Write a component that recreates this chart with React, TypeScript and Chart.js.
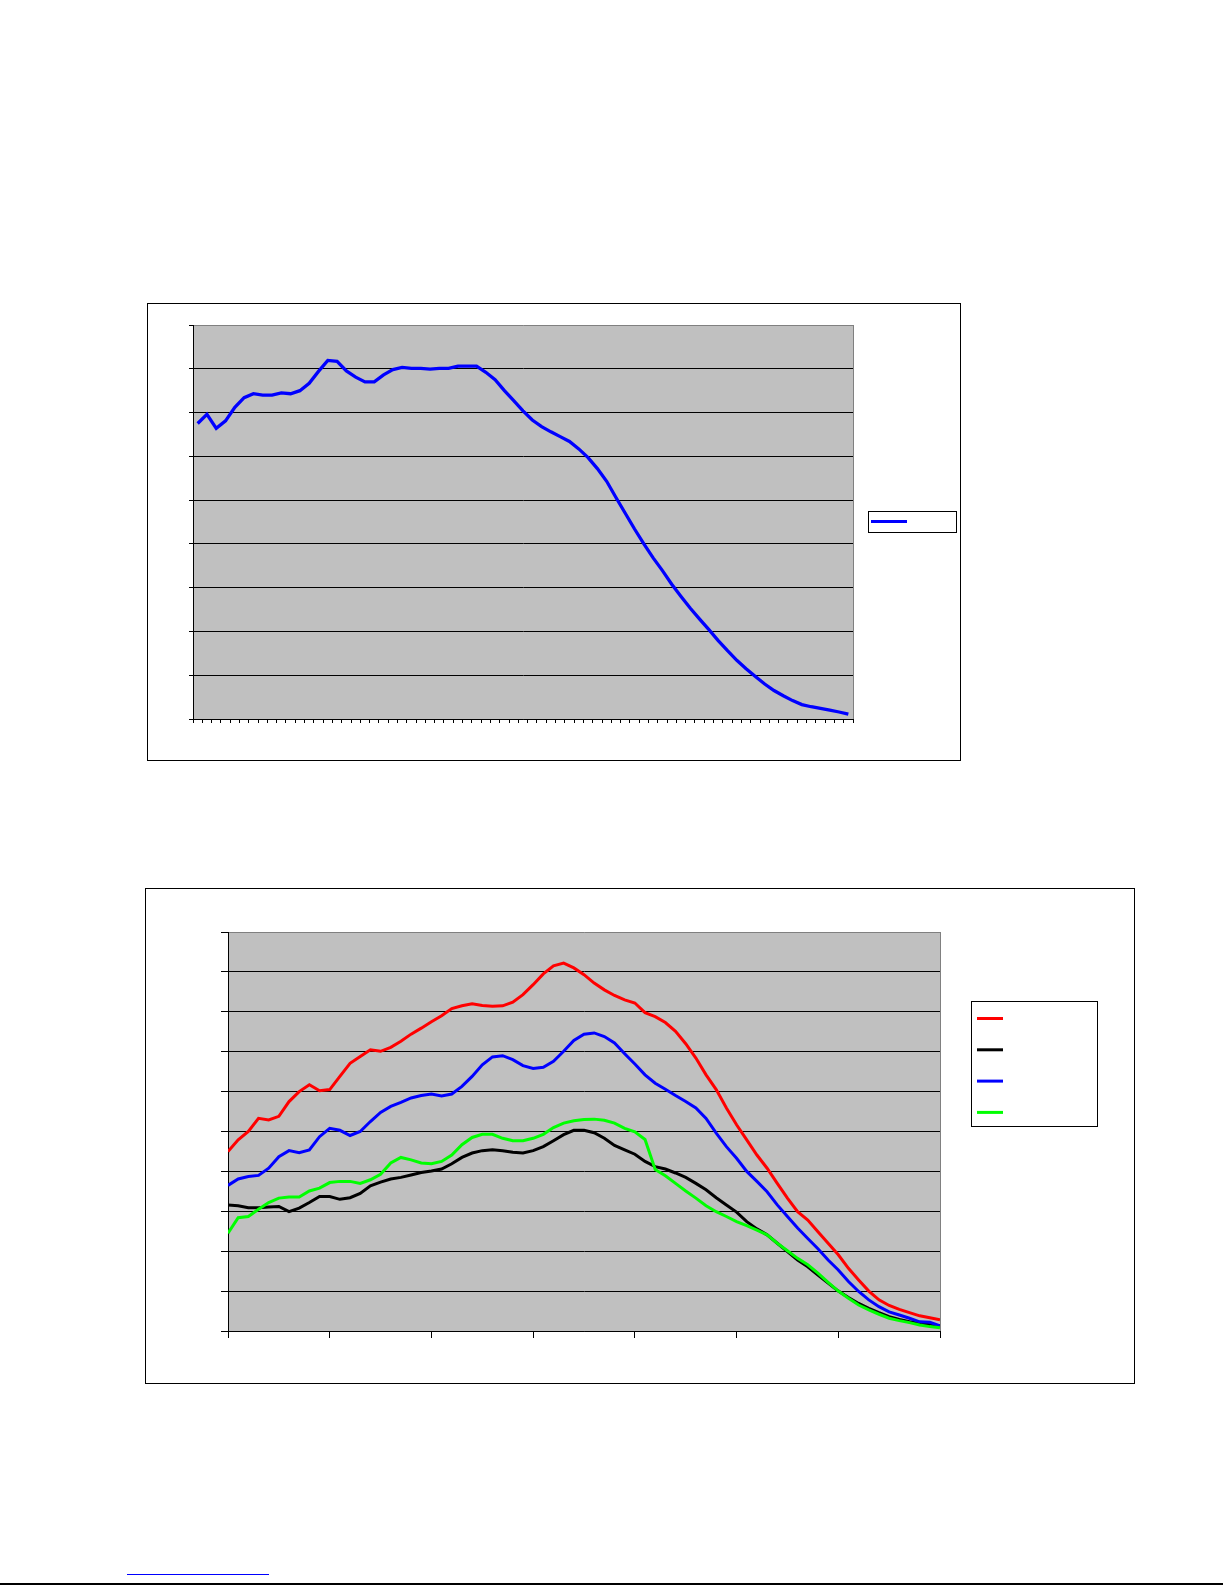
import { useEffect, useRef } from 'react'
import { Chart, registerables } from 'chart.js'

Chart.register(...registerables)

// upper chart: one series over 71 categories, 9 grid bands
const singleSeries = [
  6.75, 6.96, 6.64, 6.81, 7.12, 7.34, 7.43, 7.40, 7.40, 7.45,
  7.43, 7.50, 7.67, 7.94, 8.19, 8.17, 7.95, 7.81, 7.70, 7.70,
  7.86, 7.98, 8.03, 8.01, 8.01, 7.99, 8.01, 8.01, 8.06, 8.06,
  8.06, 7.92, 7.75, 7.50, 7.27, 7.04, 6.83, 6.68, 6.56, 6.45,
  6.34, 6.17, 5.97, 5.72, 5.43, 5.06, 4.70, 4.34, 4.00, 3.68,
  3.39, 3.08, 2.80, 2.53, 2.28, 2.04, 1.79, 1.56, 1.34, 1.15,
  0.97, 0.80, 0.65, 0.53, 0.42, 0.33, 0.28, 0.24, 0.20, 0.16, 0.11,
]
const singleLabels = singleSeries.map((_, i) => String(i + 1))

// lower chart: four series, x from 0 to 70, 10 grid bands
const redSeries = [
  4.50, 4.79, 5.00, 5.33, 5.29, 5.38, 5.75, 6.00, 6.17, 6.02,
  6.05, 6.38, 6.71, 6.88, 7.05, 7.01, 7.11, 7.26, 7.44, 7.59,
  7.75, 7.90, 8.08, 8.15, 8.20, 8.16, 8.14, 8.15, 8.24, 8.43,
  8.68, 8.95, 9.15, 9.22, 9.10, 8.93, 8.72, 8.55, 8.41, 8.30,
  8.22, 7.98, 7.88, 7.73, 7.51, 7.20, 6.84, 6.42, 6.05, 5.59,
  5.17, 4.79, 4.41, 4.08, 3.70, 3.33, 2.99, 2.78, 2.49, 2.20,
  1.91, 1.57, 1.28, 1.00, 0.78, 0.64, 0.54, 0.46, 0.38, 0.33, 0.28,
]
const blackSeries = [
  3.16, 3.14, 3.09, 3.09, 3.11, 3.12, 2.99, 3.08, 3.22, 3.37,
  3.37, 3.30, 3.34, 3.45, 3.64, 3.73, 3.81, 3.85, 3.91, 3.97,
  4.01, 4.06, 4.19, 4.35, 4.46, 4.52, 4.54, 4.52, 4.48, 4.46,
  4.52, 4.62, 4.77, 4.92, 5.03, 5.03, 4.97, 4.83, 4.65, 4.54,
  4.43, 4.25, 4.12, 4.06, 3.96, 3.85, 3.70, 3.54, 3.34, 3.16,
  2.98, 2.74, 2.56, 2.41, 2.20, 1.99, 1.78, 1.61, 1.40, 1.20,
  1.00, 0.84, 0.69, 0.57, 0.46, 0.36, 0.29, 0.23, 0.19, 0.16, 0.13,
]
const blueSeries = [
  3.65, 3.81, 3.87, 3.90, 4.08, 4.37, 4.52, 4.47, 4.54, 4.87,
  5.08, 5.03, 4.90, 5.00, 5.25, 5.48, 5.63, 5.73, 5.84, 5.90,
  5.94, 5.89, 5.94, 6.13, 6.38, 6.67, 6.87, 6.90, 6.80, 6.65,
  6.58, 6.61, 6.76, 7.01, 7.28, 7.44, 7.47, 7.38, 7.22, 6.95,
  6.69, 6.42, 6.21, 6.06, 5.90, 5.75, 5.59, 5.33, 4.96, 4.62,
  4.33, 4.00, 3.75, 3.49, 3.16, 2.87, 2.58, 2.32, 2.06, 1.78,
  1.53, 1.24, 0.99, 0.78, 0.61, 0.48, 0.40, 0.32, 0.23, 0.22, 0.13,
]
const greenSeries = [
  2.45, 2.84, 2.87, 3.05, 3.22, 3.33, 3.36, 3.36, 3.51, 3.58,
  3.72, 3.75, 3.75, 3.70, 3.79, 3.93, 4.21, 4.35, 4.29, 4.21,
  4.19, 4.25, 4.41, 4.67, 4.85, 4.93, 4.93, 4.83, 4.77, 4.77,
  4.83, 4.93, 5.10, 5.21, 5.27, 5.30, 5.31, 5.28, 5.21, 5.08,
  4.99, 4.80, 4.05, 3.89, 3.70, 3.51, 3.33, 3.14, 2.99, 2.87,
  2.74, 2.64, 2.53, 2.41, 2.20, 2.01, 1.82, 1.66, 1.45, 1.22,
  1.00, 0.82, 0.65, 0.53, 0.42, 0.32, 0.26, 0.21, 0.15, 0.11, 0.08,
]

const toPoints = (values: number[]) => values.map((y, x) => ({ x, y }))

// grey plot area, grey right edge
const plotFrame = {
  id: 'plotFrame',
  beforeDraw(chart: any) {
    const { ctx, chartArea: a } = chart
    ctx.save()
    ctx.fillStyle = '#c0c0c0'
    ctx.fillRect(a.left, a.top, a.right - a.left, a.bottom - a.top)
    ctx.restore()
  },
  beforeDatasetsDraw(chart: any) {
    const { ctx, chartArea: a } = chart
    const x = Math.round(a.right) + 0.5
    ctx.save()
    ctx.strokeStyle = '#808080'
    ctx.lineWidth = 1
    ctx.beginPath()
    ctx.moveTo(x, a.top)
    ctx.lineTo(x, a.bottom)
    ctx.stroke()
    ctx.restore()
  },
}

// boxed legend with line samples only
const boxLegend = {
  id: 'boxLegend',
  afterDraw(chart: any, _args: any, opts: any) {
    const { ctx } = chart
    ctx.save()
    ctx.fillStyle = '#fff'
    ctx.fillRect(opts.left, opts.top, opts.width, opts.height)
    ctx.strokeStyle = '#000'
    ctx.lineWidth = 1
    ctx.strokeRect(opts.left + 0.5, opts.top + 0.5, opts.width, opts.height)
    chart.data.datasets.forEach((ds: any, i: number) => {
      const y = opts.firstRow + i * opts.rowGap
      ctx.strokeStyle = ds.borderColor
      ctx.lineWidth = 3
      ctx.beginPath()
      ctx.moveTo(opts.sampleX, y)
      ctx.lineTo(opts.sampleX + opts.sampleW, y)
      ctx.stroke()
    })
    ctx.restore()
  },
}

function TopChart() {
  const chartRef = useRef<HTMLCanvasElement>(null)
  const chartInstance = useRef<Chart | null>(null)

  useEffect(() => {
    if (!chartRef.current) return
    if (chartInstance.current) chartInstance.current.destroy()

    chartInstance.current = new Chart(chartRef.current, {
      type: 'line',
      data: {
        labels: singleLabels,
        datasets: [
          {
            data: singleSeries,
            borderColor: '#0000ff',
            borderWidth: 3.3,
            pointRadius: 0,
            tension: 0,
          },
        ],
      },
      options: {
        responsive: false,
        animation: false,
        layout: { padding: { left: 41, top: 21, right: 107, bottom: 37 } },
        plugins: {
          legend: { display: false },
          tooltip: { enabled: false },
          boxLegend: { left: 720, top: 207, width: 88, height: 21, firstRow: 217.5, rowGap: 0, sampleX: 723, sampleW: 36 },
        } as any,
        scales: {
          x: {
            offset: true,
            grid: { offset: true, drawOnChartArea: false, tickLength: 4, tickColor: '#000' },
            border: { color: '#000' },
            ticks: { display: false },
          },
          y: {
            min: 0,
            max: 9,
            ticks: { display: false, stepSize: 1 },
            grid: {
              color: (c: any) => (c.tick && c.tick.value === 9 ? '#808080' : '#000'),
              tickColor: '#000',
              tickLength: 4,
            },
            border: { color: '#000' },
          },
        },
      },
      plugins: [plotFrame, boxLegend],
    })

    return () => {
      if (chartInstance.current) chartInstance.current.destroy()
    }
  }, [])

  return (
    <div style={{ position: 'absolute', left: 147, top: 303, width: 814, height: 458, border: '1px solid #000', boxSizing: 'border-box', background: '#fff' }}>
      <canvas ref={chartRef} width={812} height={456} style={{ display: 'block' }} />
    </div>
  )
}

function BottomChart() {
  const chartRef = useRef<HTMLCanvasElement>(null)
  const chartInstance = useRef<Chart | null>(null)

  useEffect(() => {
    if (!chartRef.current) return
    if (chartInstance.current) chartInstance.current.destroy()

    const line = (values: number[], color: string, order: number) => ({
      data: toPoints(values),
      borderColor: color,
      borderWidth: 3,
      pointRadius: 0,
      tension: 0,
      order,
    })

    chartInstance.current = new Chart(chartRef.current, {
      type: 'line',
      data: {
        datasets: [
          line(redSeries, '#ff0000', 3),
          line(blackSeries, '#000000', 2),
          line(blueSeries, '#0000ff', 1),
          line(greenSeries, '#00ff00', 0),
        ],
      },
      options: {
        responsive: false,
        animation: false,
        layout: { padding: { left: 75, top: 43, right: 194, bottom: 45 } },
        plugins: {
          legend: { display: false },
          tooltip: { enabled: false },
          boxLegend: { left: 825, top: 112, width: 126, height: 125, firstRow: 129.5, rowGap: 31.3, sampleX: 831, sampleW: 26 },
        } as any,
        scales: {
          x: {
            type: 'linear',
            min: 0,
            max: 70,
            ticks: { display: false, stepSize: 10 },
            grid: { drawOnChartArea: false, tickLength: 7, tickColor: '#000' },
            border: { color: '#000' },
          },
          y: {
            min: 0,
            max: 10,
            ticks: { display: false, stepSize: 1 },
            grid: {
              color: (c: any) => (c.tick && c.tick.value === 10 ? '#808080' : '#000'),
              tickColor: '#000',
              tickLength: 7,
            },
            border: { color: '#000' },
          },
        },
      },
      plugins: [plotFrame, boxLegend],
    })

    return () => {
      if (chartInstance.current) chartInstance.current.destroy()
    }
  }, [])

  return (
    <div style={{ position: 'absolute', left: 145, top: 888, width: 990, height: 496, border: '1px solid #000', boxSizing: 'border-box', background: '#fff' }}>
      <canvas ref={chartRef} width={988} height={494} style={{ display: 'block' }} />
    </div>
  )
}

export default function App() {
  return (
    <div style={{ position: 'absolute', left: 0, top: 0, width: 1225, height: 1585, background: '#fff', overflow: 'hidden' }}>
      <TopChart />
      <BottomChart />
      <div style={{ position: 'absolute', left: 127, top: 1574, width: 142, height: 1, background: '#0000ff' }} />
      <div style={{ position: 'absolute', left: 0, top: 1583, width: 1223, height: 2, background: '#000' }} />
    </div>
  )
}
